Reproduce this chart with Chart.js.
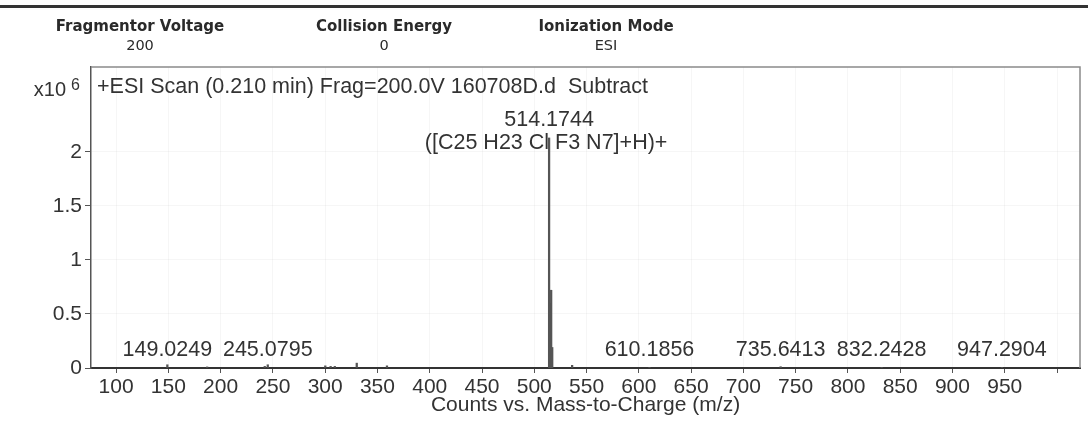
<!DOCTYPE html>
<html><head><meta charset="utf-8">
<script src="https://cdn.jsdelivr.net/npm/chart.js@4"></script>
<style>
html,body{margin:0;padding:0;background:#fff;width:1088px;height:423px;overflow:hidden;}
#wrap{position:relative;width:1088px;height:423px;}
canvas{position:absolute;left:0;top:0;}
#topline{position:absolute;left:0;top:5px;width:1088px;height:3px;background:#333;}
.hd{position:absolute;width:240px;text-align:center;font-family:"DejaVu Sans",Verdana,sans-serif;font-size:14.5px;color:#2a2a2a;line-height:19px;}
.hd b{display:block;font-weight:bold;font-size:15px;}
</style></head><body>
<div id="wrap">
<canvas id="c" width="1088" height="423"></canvas>
<div id="topline"></div>
<div class="hd" style="left:20px;top:17px"><b>Fragmentor Voltage</b>200</div>
<div class="hd" style="left:264px;top:17px"><b>Collision Energy</b>0</div>
<div class="hd" style="left:486px;top:17px"><b>Ionization Mode</b>ESI</div>
</div>
<script>
// m/z of observed peaks and their counts (x10^6)
const peakMz     = [149.0249, 187.1, 242.2, 245.0795, 300.1, 305.2, 309.2, 330.2, 359.1,
                    514.1744, 515.18, 516.17, 517.17, 536.2, 610.1856, 735.6413, 832.2428, 947.2904];
const peakCounts = [0.03, 0.01, 0.015, 0.03, 0.02, 0.015, 0.015, 0.045, 0.02,
                    2.13, 0.60, 0.72, 0.19, 0.025, 0.006, 0.012, 0.006, 0.006];
// annotated peaks
const labeledMz  = [149.0249, 245.0795, 610.1856, 735.6413, 832.2428, 947.2904];
const basePeakMz = 514.1744;
const basePeakFormula = "([C25 H23 Cl F3 N7]+H)+";
const scanTitle = "+ESI Scan (0.210 min) Frag=200.0V 160708D.d  Subtract";
const xTickValues = [100,150,200,250,300,350,400,450,500,550,600,650,700,750,800,850,900,950,1000];
const yTickValues = [0,0.5,1,1.5,2];
const xAxisTitle = "Counts vs. Mass-to-Charge (m/z)";

const FONT = '"Liberation Sans", Arial, sans-serif';
const TXT = '#333';
const FS = 21.5;

const annot = {
  id: 'annot',
  afterDraw(chart) {
    const ctx = chart.ctx, a = chart.chartArea;
    const xs = chart.scales.x;
    ctx.save();
    // frame top & right
    ctx.strokeStyle = '#8a8a8a'; ctx.lineWidth = 1.5;
    ctx.beginPath();
    ctx.moveTo(a.left, a.top); ctx.lineTo(a.right, a.top); ctx.lineTo(a.right, a.bottom);
    ctx.stroke();
    ctx.fillStyle = TXT;
    // scan title
    ctx.font = FS + 'px ' + FONT; ctx.textBaseline = 'middle'; ctx.textAlign = 'left';
    ctx.fillText(scanTitle, a.left + 6, a.top + 20);
    // y multiplier
    ctx.font = '20px ' + FONT; ctx.textAlign = 'right';
    ctx.fillText('x10', 66, a.top + 23);
    ctx.font = '16px ' + FONT; ctx.textAlign = 'left';
    ctx.fillText('6', 71, a.top + 19);
    // base peak label
    ctx.font = FS + 'px ' + FONT; ctx.textAlign = 'center';
    const bx = xs.getPixelForValue(basePeakMz);
    ctx.fillText(basePeakMz.toFixed(4), bx, a.top + 53);
    ctx.fillText(basePeakFormula, bx - 3, a.top + 76);
    // other labels
    labeledMz.forEach(m => {
      ctx.fillText(m.toFixed(4), xs.getPixelForValue(m), a.bottom - 18);
    });
    ctx.restore();
  }
};

new Chart(document.getElementById('c'), {
  type: 'bar',
  data: {
    datasets: [{
      data: peakMz.map((m, i) => ({x: m, y: peakCounts[i]})),
      backgroundColor: '#555',
      borderWidth: 0,
      barThickness: 1.6,
      grouped: false
    }]
  },
  options: {
    responsive: false,
    animation: false,
    layout: {padding: {top: 67, right: 8, left: 0, bottom: 0}},
    plugins: {legend: {display: false}, tooltip: {enabled: false}},
    scales: {
      x: {
        type: 'linear', min: 76, max: 1022, offset: false,
        afterBuildTicks: s => { s.ticks = xTickValues.map(v => ({value: v})); },
        afterFit: s => { s.height = 55; },
        ticks: {
          autoSkip: false, maxRotation: 0, padding: 2,
          color: TXT, font: {family: FONT, size: 21}, 
          callback: v => v === 1000 ? '' : String(v)
        },
        grid: {offset: false, color: 'rgba(0,0,0,0.035)', tickColor: '#555', tickLength: 5},
        border: {color: '#333', width: 2},
        title: {display: true, text: xAxisTitle, color: TXT,
                font: {family: FONT, size: 21}, padding: {top: 0, bottom: 5}}
      },
      y: {
        min: 0, max: 2.787,
        afterBuildTicks: s => { s.ticks = yTickValues.map(v => ({value: v})); },
        afterFit: s => { s.width = 91; },
        ticks: {color: TXT, font: {family: FONT, size: 21}, padding: 3,
                callback: v => String(v)},
        grid: {color: 'rgba(0,0,0,0.035)', tickColor: '#555', tickLength: 6},
        border: {color: '#555', width: 1.5}
      }
    }
  },
  plugins: [annot]
});
</script>
</body></html>
